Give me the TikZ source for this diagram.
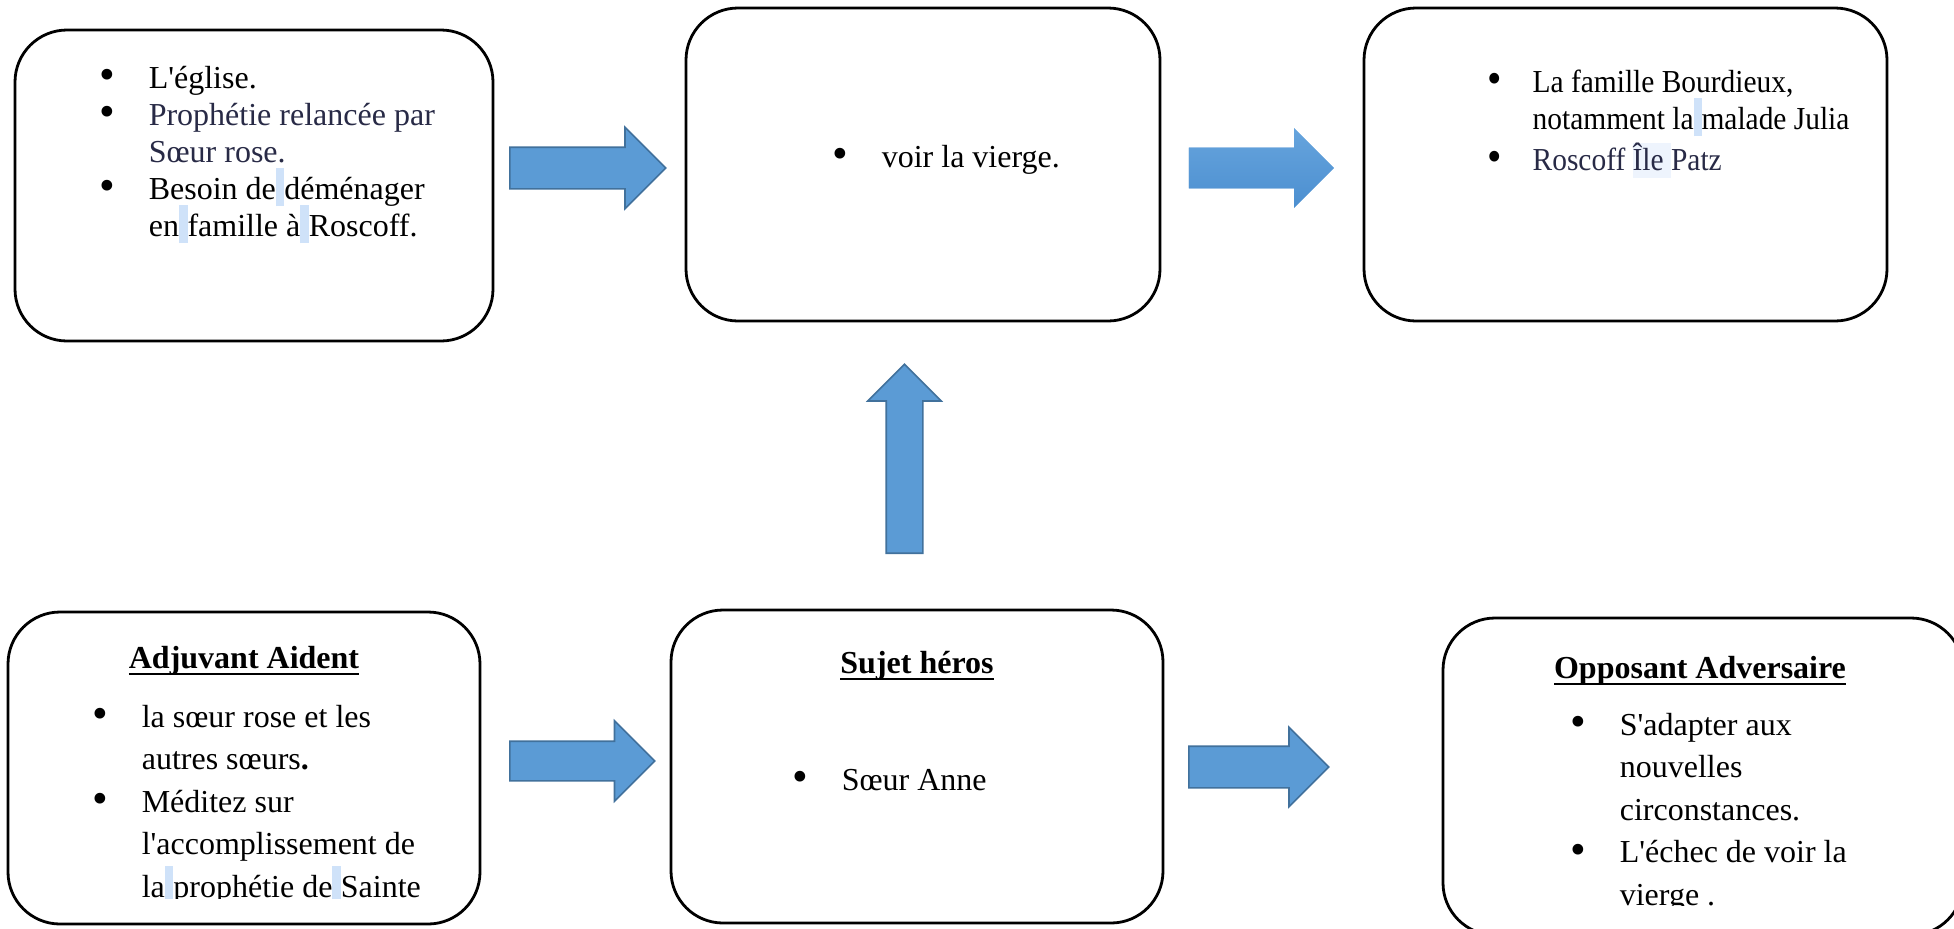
\documentclass[tikz,border=0pt]{standalone}
\usepackage{fontspec}
\setmainfont{Liberation Serif}[Ligatures=TeXOff]
\usepackage{graphicx}
\usetikzlibrary{shapes.arrows}
\definecolor{flecheBleu}{HTML}{5B9BD5}
\definecolor{flecheBord}{HTML}{41719C}
\definecolor{flecheHaut}{HTML}{66A4DD}
\definecolor{flecheBas}{HTML}{4C8FD0}
\definecolor{texteMarine}{HTML}{282A46}
\definecolor{surligne}{HTML}{CFE2F9}
\definecolor{surlignePale}{HTML}{EEF4FD}
\newsavebox\boiteTitre
\newcommand\souligne[1]{\sbox\boiteTitre{#1}\rlap{\rule[-3.6pt]{\wd\boiteTitre}{1.2pt}}\usebox\boiteTitre}
\newcommand\puce{\makebox[23.5pt][l]{\hspace{-1pt}\raisebox{-0.8pt}{\scalebox{1.4}{\textbullet}}}}
\newcommand\retrait{\hspace*{23.5pt}}
\newcommand\blanc{{\color{surligne}\smash{\rule[-3.5pt]{4.25pt}{19pt}}}}
\newcommand\motPale[1]{\smash{\setlength\fboxsep{0pt}\colorbox{surlignePale}{\rule[-4pt]{0pt}{17.5pt}#1}}}

\begin{document}
\begin{tikzpicture}[x=0.5pt,y=-0.5pt,
  cadre/.style={draw, line width=1.4pt, rounded corners=26pt, inner sep=0pt},
  liste/.style={anchor=base west, inner sep=0pt, font=\fontsize{16}{18.5}\selectfont},
  listeAeree/.style={anchor=base west, inner sep=0pt, font=\fontsize{16}{21.25}\selectfont},
  titre/.style={anchor=base, inner sep=0pt, font=\fontsize{16}{18.5}\selectfont\bfseries},
  fleche/.style={single arrow, anchor=tail, draw=flecheBord, fill=flecheBleu, line width=0.8pt,
    inner xsep=0pt, single arrow tip angle=90}
]
\useasboundingbox (0,0) rectangle (1954,928);
\fill[white] (0,0) rectangle (1954,928);
\clip (0,0) rectangle (1954,928);

% les six cases
\node[cadre, minimum width=239pt, minimum height=155.5pt] (destinateur) at (254,185.5) {};
\node[cadre, minimum width=237pt, minimum height=156.5pt] (objet) at (923,164.5) {};
\node[cadre, minimum width=261.5pt, minimum height=156.5pt] (destinataire) at (1625.5,164.5) {};
\node[cadre, minimum width=236pt, minimum height=156pt] (adjuvant) at (244,768) {};
\node[cadre, minimum width=246pt, minimum height=156.5pt] (sujet) at (917,766.5) {};
\node[cadre, minimum width=260pt, minimum height=158.5pt] (opposant) at (1703,776.5) {};

% contenus
\node[liste] (destinateurTxt) at (101.4,88) {\begin{tabular}[t]{@{}l@{}}
  \puce L'église.\\
  \puce\color{texteMarine}Prophétie relancée par\\
  \retrait\color{texteMarine}Sœur rose.\\
  \puce Besoin de\blanc déménager\\
  \retrait en\blanc famille à\blanc Roscoff.
\end{tabular}};
\node[liste] (objetTxt) at (834.4,167) {\puce voir la vierge.};
\node[liste] (destinataireTxt) at (1489,92) {\scalebox{0.92}[1]{\begin{tabular}[t]{@{}l@{}}
  \puce La famille Bourdieux,\\
  \retrait notamment la\blanc malade Julia\\[2pt]
  \puce\color{texteMarine}Roscoff \motPale{Île\ }Patz
\end{tabular}}};

\node[titre] (adjuvantTitre) at (244,668) {\souligne{Adjuvant Aident}};
\begin{scope}
\clip (0,0) rectangle (1954,898);
\node[listeAeree] (adjuvantTxt) at (94.4,727) {\begin{tabular}[t]{@{}l@{}}
  \puce la sœur rose et les\\
  \retrait autres sœurs\textbf{.}\\
  \puce Méditez sur\\
  \retrait l'accomplissement de\\
  \retrait la\blanc prophétie de\blanc Sainte
\end{tabular}};
\end{scope}

\node[titre] (sujetTitre) at (917,673) {\souligne{Sujet héros}};
\node[liste] (sujetTxt) at (794.4,790) {\puce Sœur Anne};

\node[titre] (opposantTitre) at (1700,678) {\souligne{Opposant Adversaire}};
\begin{scope}
\clip (0,0) rectangle (1954,905);
\node[listeAeree] (opposantTxt) at (1572.4,735) {\begin{tabular}[t]{@{}l@{}}
  \puce S'adapter aux\\
  \retrait nouvelles\\
  \retrait circonstances.\\
  \puce L'échec de voir la\\
  \retrait vierge .
\end{tabular}};
\end{scope}

% fleches pleines
\node[fleche, minimum height=78pt, inner ysep=10pt, single arrow head extend=10pt] (f1) at (509,168) {};
\node[fleche, draw=none, top color=flecheHaut, bottom color=flecheBas,
  minimum height=72.5pt, inner ysep=9.75pt, single arrow head extend=9.75pt] (f2) at (1188,168) {};
\node[fleche, rotate=90, minimum height=94.5pt, inner ysep=8.75pt, single arrow head extend=9.25pt] (f3) at (904.5,554) {};
\node[fleche, minimum height=72.5pt, inner ysep=9.5pt, single arrow head extend=10.25pt] (f4) at (509,761) {};
\node[fleche, minimum height=70pt, inner ysep=10pt, single arrow head extend=9.5pt] (f5) at (1188,767) {};
\end{tikzpicture}
\end{document}
